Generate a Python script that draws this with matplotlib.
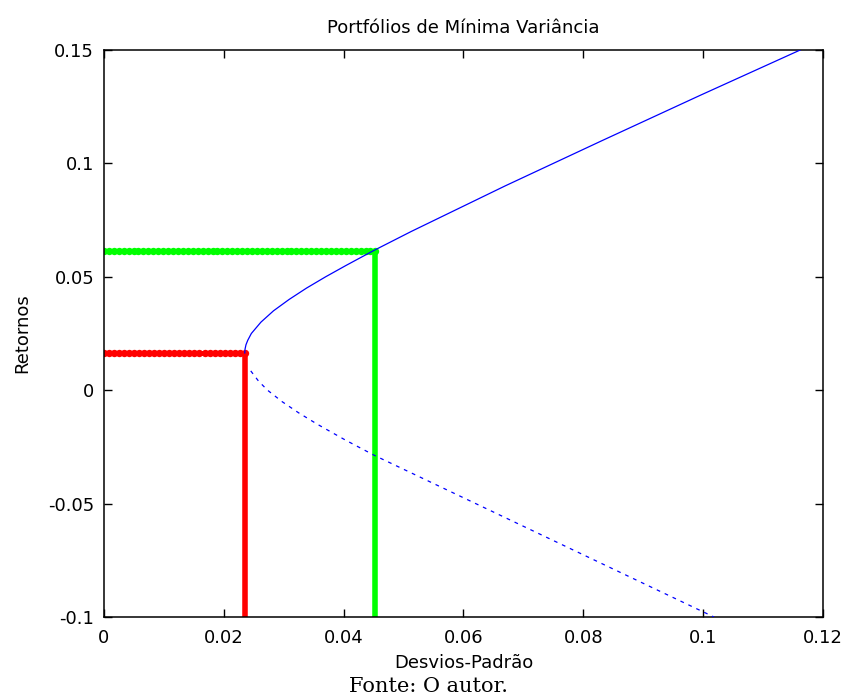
import numpy as np
import matplotlib
matplotlib.use("Agg")
import matplotlib.pyplot as plt

# ---- data ----
# efficient (upper) branch of the minimum-variance frontier
upper_std = [0.0235, 0.02354, 0.0237, 0.0240, 0.0246, 0.0262, 0.0283, 0.0309, 0.0338,
             0.0370, 0.0404, 0.0449, 0.0513, 0.0669, 0.0831, 0.0995, 0.1162]
upper_ret = [0.0164, 0.0180, 0.0200, 0.0220, 0.0250, 0.0300, 0.0350, 0.0400, 0.0450,
             0.0500, 0.0550, 0.0614, 0.0700, 0.0900, 0.1100, 0.1300, 0.1500]
# inefficient (lower) branch
lower_std = [0.0245, 0.0258, 0.0273, 0.0297, 0.0325, 0.0356, 0.0403, 0.0451, 0.1018]
lower_ret = [0.0085, 0.0040, 0.0000, -0.0050, -0.0100, -0.0150, -0.0220, -0.0287, -0.1000]
# global minimum-variance portfolio
gmv_std, gmv_ret = 0.0235, 0.0164
# target portfolio
tgt_std, tgt_ret = 0.0453, 0.0614

title = "Portfólios de Mínima Variância"
xlabel = "Desvios-Padrão"
ylabel = "Retornos"
source = "Fonte: O autor."
xticks = [0, 0.02, 0.04, 0.06, 0.08, 0.1, 0.12]
xticklabels = ["0", "0.02", "0.04", "0.06", "0.08", "0.1", "0.12"]
yticks = [-0.1, -0.05, 0, 0.05, 0.1, 0.15]
yticklabels = ["-0.1", "-0.05", "0", "0.05", "0.1", "0.15"]

plt.rcParams['font.family'] = ['DejaVu Sans']

fig = plt.figure(figsize=(8.45, 6.97), dpi=100)
ax = fig.add_axes([0.123, 0.1148, 0.851, 0.8135])

ymin, ymax = -0.1, 0.15
xmin, xmax = 0, 0.12

ax.plot(upper_std, upper_ret, color=(0, 0, 1), lw=0.9, zorder=3)
ax.plot(lower_std, lower_ret, color=(0, 0, 1), lw=0.9, ls=(0, (3, 4)), zorder=3)

for s, r, c in [(gmv_std, gmv_ret, (1, 0, 0)), (tgt_std, tgt_ret, (0, 1, 0))]:
    ax.plot([s, s], [ymin, r], color=c, lw=4, solid_capstyle='butt', zorder=2)
    n = int(round(s / 0.00083)) + 1
    hx = np.linspace(xmin, s, n)
    ax.plot(hx, np.full_like(hx, r), color=c, lw=3.6, marker='o', ms=5.3,
            markeredgewidth=0, zorder=2)

ax.set_xlim(xmin, xmax)
ax.set_ylim(ymin, ymax)
ax.set_xticks(xticks)
ax.set_xticklabels(xticklabels)
ax.set_yticks(yticks)
ax.set_yticklabels(yticklabels)
ax.tick_params(axis='x', pad=9)
ax.tick_params(axis='y', pad=7)
ax.tick_params(direction='in', top=True, right=True, length=6, width=1,
               labelsize=13)
for sp in ax.spines.values():
    sp.set_linewidth(1.1)

ax.set_title(title, fontsize=13, pad=12)
ax.set_xlabel(xlabel, fontsize=13, labelpad=5)
ax.set_ylabel(ylabel, fontsize=13, labelpad=12)

fig.text(0.507, 0.002, source, fontsize=15, family="DejaVu Serif", ha='center', va='bottom')

fig.savefig("out.png", dpi=100)
